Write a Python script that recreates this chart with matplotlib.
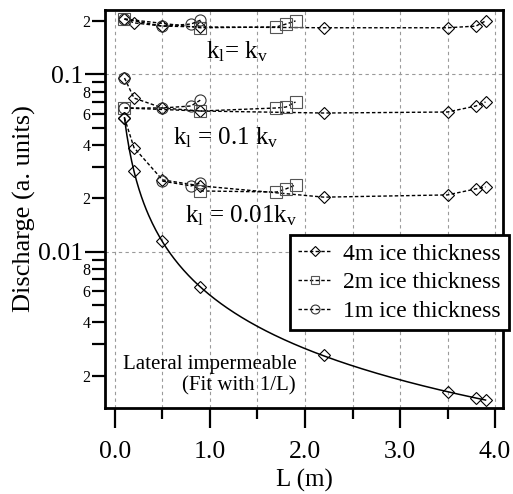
# Discharge vs. lateral distance L for three ice thicknesses and three k_l/k_v ratios

# IMPORTS --------------------------------------------------------------------------------------------------------------
import numpy as np
import matplotlib
matplotlib.use('Agg')
import matplotlib.pyplot as plt
from matplotlib.ticker import LogLocator, FixedLocator, FuncFormatter, MultipleLocator


# DATA -----------------------------------------------------------------------------------------------------------------
L_4m = [0.1, 0.2, 0.5, 0.9, 2.2, 3.5, 3.8, 3.9]
L_2m = [0.1, 0.9, 1.7, 1.8, 1.9]
L_1m = [0.1, 0.5, 0.8, 0.9]
L_2m_low = [0.9, 1.7, 1.8, 1.9]
L_1m_low = [0.5, 0.8, 0.9]

# k_l = k_v
q4_kv = [0.205, 0.195, 0.187, 0.185, 0.183, 0.183, 0.187, 0.200]
q2_kv = [0.205, 0.183, 0.185, 0.192, 0.200]
q1_kv = [0.205, 0.187, 0.192, 0.202]

# k_l = 0.1 k_v
q4_01 = [0.0953, 0.0735, 0.0646, 0.0621, 0.0605, 0.0613, 0.0663, 0.0698]
q2_01 = [0.0646, 0.0621, 0.0646, 0.0654, 0.0698]
q1_01 = [0.0646, 0.0646, 0.0663, 0.0716]
q1_01_extra = [0.0953]   # lone circle on top of the first 4m point

# k_l = 0.01 k_v
q4_001 = [0.0568, 0.0386, 0.0254, 0.0235, 0.0203, 0.0209, 0.0226, 0.0232]
q2_001 = [0.0220, 0.0217, 0.0226, 0.0238]
q1_001 = [0.0250, 0.0235, 0.0244]

# lateral impermeable (4m ice)
q4_imp = [0.0568, 0.0285, 0.0115, 0.00632, 0.00262, 0.00162, 0.00150, 0.00146]

legend_labels = ['4m ice thickness', '2m ice thickness', '1m ice thickness']


# FIGURE ---------------------------------------------------------------------------------------------------------------
def discharge_plot(save_path):
    plt.rcParams['font.family'] = ['Liberation Serif', 'DejaVu Serif']
    plt.rcParams['mathtext.fontset'] = 'custom'
    plt.rcParams['mathtext.rm'] = 'Liberation Serif'
    plt.rcParams['mathtext.it'] = 'Liberation Serif:italic'

    fig = plt.figure(figsize=(5.13, 4.94), dpi=100)
    ax = fig.add_axes([0.2047, 0.1741, 0.9805 - 0.2047, 0.9798 - 0.1741])

    dash = (0, (2.5, 1.6))
    styles = [
        dict(marker='D', markersize=6.5, mec='black'),
        dict(marker='s', markersize=8, mec='#555555'),
        dict(marker='o', markersize=8, mec='#333333'),
    ]
    groups = [
        [(L_4m, q4_kv), (L_2m, q2_kv), (L_1m, q1_kv)],
        [(L_4m, q4_01), (L_2m, q2_01), (L_1m, q1_01)],
        [(L_4m, q4_001), (L_2m_low, q2_001), (L_1m_low, q1_001)],
    ]

    handles = []
    for g in groups:
        for i, (x, y) in enumerate(g):
            ln, = ax.plot(x, y, color='black', lw=1.0, linestyle=dash, mfc='none', mew=0.8, **styles[i])
            if len(handles) < 3:
                handles.append(ln)
    ax.plot([L_1m[0]], q1_01_extra, linestyle='none', color='black', mfc='none', mew=0.8, **styles[2])

    # impermeable case: points + 1/L fit
    ax.plot(L_4m, q4_imp, linestyle='none', color='black', mfc='none', mew=0.8, **styles[0])
    L_arr = np.array(L_4m)
    a = np.sum(np.array(q4_imp) / L_arr) / np.sum(1 / L_arr ** 2)
    L_fit = np.linspace(min(L_4m), max(L_4m), 300)
    ax.plot(L_fit, a / L_fit, color='black', lw=1.1)

    # axes
    ax.set_yscale('log')
    ax.set_xlim(-0.105, 4.084)
    ax.set_ylim(0.001315, 0.2305)

    ax.xaxis.set_major_locator(MultipleLocator(1.0))
    ax.xaxis.set_minor_locator(MultipleLocator(0.5))
    ax.xaxis.set_major_formatter(FuncFormatter(lambda v, p: f'{v:.1f}'))

    ax.yaxis.set_major_locator(FixedLocator([0.01, 0.1]))
    ax.yaxis.set_major_formatter(FuncFormatter(lambda v, p: f'{v:g}'))
    ax.yaxis.set_minor_locator(LogLocator(base=10, subs=np.arange(2, 10)))

    def minor_lab(v, p):
        d = int(round(v / 10 ** np.floor(np.log10(v) + 1e-9)))
        return str(d) if d in (2, 4, 6, 8) else ''
    ax.yaxis.set_minor_formatter(FuncFormatter(minor_lab))

    ax.tick_params(which='major', direction='out', length=14.5, width=1.6, labelsize=18.5, pad=1)
    ax.tick_params(axis='y', which='minor', direction='out', length=9.4, width=1.6, labelsize=11.5, pad=1)
    ax.tick_params(axis='x', which='minor', direction='out', length=8, width=1.6)
    ax.tick_params(axis='x', which='major', pad=9)
    for s in ax.spines.values():
        s.set_linewidth(2.0)

    ax.grid(which='major', color='#9a9a9a', linestyle=(0, (3, 3)), lw=0.8)
    ax.xaxis.grid(which='minor', color='#9a9a9a', linestyle=(0, (3, 3)), lw=0.8)
    ax.set_axisbelow(True)

    ax.set_xlabel('L (m)', fontsize=18)
    ax.xaxis.set_label_coords(0.5, -0.152)
    ax.set_ylabel('Discharge (a. units)', fontsize=19, labelpad=2)

    # annotations
    ax.text(0.254, 0.879, r'k$_\mathrm{l}$= k$_\mathrm{v}$', transform=ax.transAxes, fontsize=18, va='baseline')
    ax.text(0.171, 0.663, r'k$_\mathrm{l}$ = 0.1 k$_\mathrm{v}$', transform=ax.transAxes, fontsize=18, va='baseline')
    ax.text(0.201, 0.467, r'k$_\mathrm{l}$ = 0.01k$_\mathrm{v}$', transform=ax.transAxes, fontsize=18, va='baseline')
    ax.text(0.045, 0.097, 'Lateral impermeable', transform=ax.transAxes, fontsize=15, va='baseline')
    ax.text(0.193, 0.045, '(Fit with 1/L)', transform=ax.transAxes, fontsize=15, va='baseline')

    leg = ax.legend(handles, legend_labels, loc='upper left', bbox_to_anchor=(0.465, 0.435),
                    fontsize=17, frameon=True, fancybox=False, borderaxespad=0, handlelength=1.4,
                    handletextpad=0.5, labelspacing=0.3, borderpad=0.35, markerscale=0.8)
    leg.get_frame().set_edgecolor('black')
    leg.get_frame().set_linewidth(2.0)
    leg.get_frame().set_alpha(1)
    leg.set_zorder(5)

    plt.savefig(save_path, dpi=100)


# EXECUTION ------------------------------------------------------------------------------------------------------------
if __name__ == "__main__":
    discharge_plot('out.png')
